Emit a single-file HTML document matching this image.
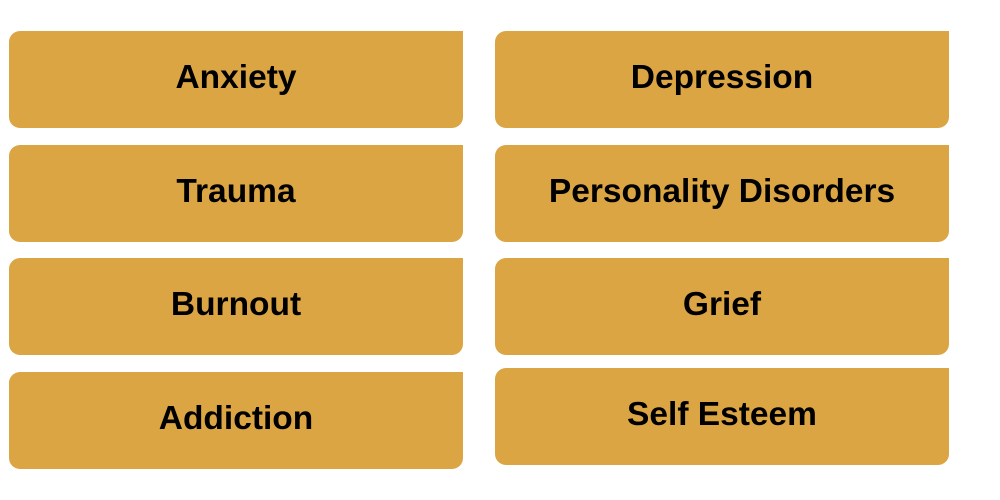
<!DOCTYPE html><html><head><style>
body{margin:0;width:1000px;height:500px;background:#fff;position:relative;overflow:hidden}
.b{position:absolute;width:454px;height:97px;box-sizing:border-box;padding-bottom:3px;background:#DBA543;border-radius:11px 0 11px 11px;display:flex;align-items:center;justify-content:center;font:bold 33.5px "Liberation Sans",sans-serif;color:#000}
</style></head><body>
<div class="b" style="left:9px;top:31px">Anxiety</div>
<div class="b" style="left:9px;top:145px">Trauma</div>
<div class="b" style="left:9px;top:258px">Burnout</div>
<div class="b" style="left:9px;top:372px">Addiction</div>
<div class="b" style="left:495px;top:31px">Depression</div>
<div class="b" style="left:495px;top:145px">Personality Disorders</div>
<div class="b" style="left:495px;top:258px">Grief</div>
<div class="b" style="left:495px;top:368px">Self Esteem</div>
</body></html>
